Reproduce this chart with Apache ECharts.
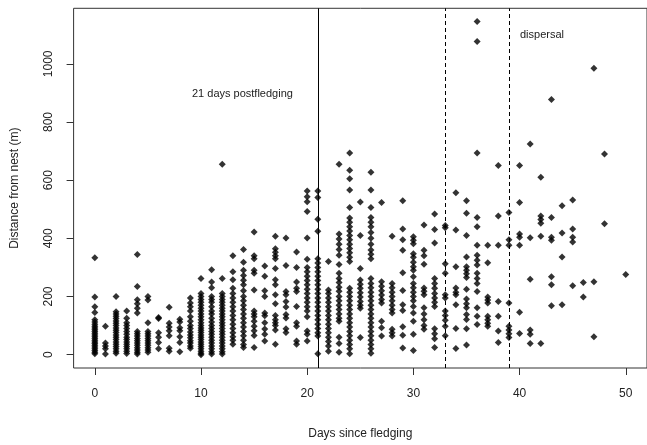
<!DOCTYPE html>
<html lang="en">

<head>
    <meta charset="UTF-8">
    <title>Distance from nest by days since fledging</title>
    <script src="https://cdn.jsdelivr.net/npm/echarts@6/dist/echarts.min.js"></script>
    <style>
        body {
            margin: 0;
        }

        #root {
            width: 647px;
            height: 445px;
        }
    </style>
</head>

<body>

    <div id="root"></div>
    <script>

        // days 0-20 (before the 21-day mark)
        var earlyDays = [0, 1, 2, 3, 4, 5, 6, 7, 8, 9, 10, 11, 12, 13, 14, 15, 16, 17, 18, 19, 20];
        var earlyDist = [
            [333, 198, 165, 145, 120, 112, 105, 98, 92, 86, 80, 74, 68, 62, 56, 50, 44, 38, 32, 26, 20, 14, 8, 3],
            [98, 40, 30, 20, 2],
            [200, 148, 140, 132, 124, 116, 108, 100, 92, 84, 76, 68, 60, 52, 44, 36, 28, 20, 12, 5],
            [150, 125, 110, 100, 90, 80, 70, 60, 52, 44, 36, 28, 20, 12, 4],
            [344, 234, 189, 175, 160, 143, 80, 72, 64, 56, 48, 40, 32, 24, 16, 8, 2],
            [200, 188, 110, 80, 72, 64, 56, 48, 40, 32, 24, 16, 8],
            [128, 124, 75, 60, 42, 20],
            [163, 108, 95, 82, 65, 22, 12],
            [122, 112, 93, 82, 62, 42, 10],
            [195, 178, 165, 150, 130, 115, 100, 90, 78, 68, 58, 48, 40, 30, 22],
            [262, 210, 200, 190, 180, 170, 160, 150, 140, 130, 120, 110, 100, 92, 84, 76, 68, 60, 52, 44, 36, 28, 20, 12, 5, 0],
            [292, 250, 230, 200, 190, 180, 165, 150, 140, 125, 112, 100, 90, 80, 70, 60, 50, 40, 30, 20, 10, 2],
            [655, 262, 210, 200, 190, 180, 170, 160, 150, 140, 130, 120, 110, 100, 90, 80, 70, 60, 50, 40, 30, 20, 10, 2],
            [340, 285, 258, 228, 210, 195, 180, 165, 150, 135, 120, 105, 90, 75, 62, 50, 36],
            [362, 318, 290, 272, 256, 240, 220, 200, 185, 170, 155, 140, 125, 110, 95, 80, 65, 50, 35, 25],
            [422, 340, 330, 290, 280, 222, 150, 140, 130, 115, 98, 82, 66, 25],
            [305, 270, 220, 200, 143, 134, 110, 88, 70, 47],
            [407, 364, 352, 340, 330, 296, 258, 240, 206, 175, 135, 120, 110, 100, 85, 36],
            [401, 307, 217, 206, 183, 164, 138, 126, 89, 76],
            [353, 300, 250, 228, 217, 166, 110, 98, 47, 36],
            [563, 543, 526, 492, 401, 328, 300, 285, 270, 255, 240, 225, 210, 195, 180, 165, 150, 130, 81, 70, 47]
        ];

        // days 21-32
        var midDays = [21, 22, 23, 24, 25, 26, 27, 28, 29, 30, 31, 32];
        var midDist = [
            [563, 540, 466, 424, 330, 315, 300, 285, 270, 255, 240, 225, 210, 195, 180, 165, 150, 135, 120, 105, 90, 75, 64, 3],
            [320, 222, 210, 195, 180, 165, 150, 135, 120, 105, 90, 75, 60, 45, 30, 12],
            [655, 415, 398, 380, 362, 342, 310, 280, 262, 248, 232, 218, 200, 185, 170, 155, 140, 125, 115, 60, 38, 8],
            [693, 634, 605, 566, 506, 470, 455, 440, 425, 410, 395, 380, 365, 350, 335, 320, 228, 215, 200, 185, 170, 155, 140, 125, 110, 95, 80, 65, 50, 35, 20, 3],
            [525, 410, 296, 257, 242, 228, 213, 198, 183, 170, 160, 59],
            [627, 566, 506, 472, 455, 440, 420, 400, 380, 360, 345, 330, 262, 245, 230, 215, 200, 185, 170, 155, 140, 125, 110, 95, 80, 65, 50, 35, 20, 5],
            [523, 251, 235, 220, 205, 190, 178, 115, 93, 64],
            [407, 245, 230, 215, 200, 185, 170, 155, 143, 87, 75, 64],
            [529, 432, 395, 359, 282, 221, 172, 152, 96, 67, 23],
            [405, 393, 381, 347, 335, 318, 302, 290, 268, 245, 230, 215, 200, 185, 166, 143, 115, 70, 14],
            [446, 359, 340, 311, 229, 218, 206, 161, 140, 120, 100, 87],
            [484, 430, 384, 262, 245, 228, 210, 195, 180, 166, 89, 72, 55, 25]
        ];

        // days 33-50
        var lateDays = [33, 34, 35, 36, 37, 38, 39, 40, 41, 42, 43, 44, 45, 46, 47, 48, 50];
        var lateDist = [
            [444, 436, 313, 280, 206, 195, 150, 135, 118, 98, 65],
            [557, 429, 302, 229, 215, 206, 172, 90, 21],
            [529, 486, 410, 336, 302, 290, 278, 265, 225, 191, 175, 161, 138, 121, 89, 33],
            [1145, 1077, 693, 472, 440, 376, 342, 325, 308, 280, 262, 245, 217, 161, 132, 104],
            [376, 316, 198, 188, 178, 132, 120, 108, 98],
            [650, 477, 376, 183, 132, 81, 42],
            [489, 395, 376, 178, 98, 85, 72, 59],
            [650, 523, 415, 404, 376, 146, 73],
            [724, 402, 259, 85, 70, 38],
            [610, 477, 465, 452, 407, 38],
            [877, 472, 404, 393, 268, 240, 168],
            [512, 418, 336, 172],
            [532, 432, 404, 387, 237],
            [248, 198],
            [985, 251, 62],
            [690, 450],
            [276]
        ];

        var xTicks = [0, 10, 20, 30, 40, 50];
        var yTicks = [0, 200, 400, 600, 800, 1000];
        var solidMark = 21;
        var dashedMarks = [33, 39];

        var points = [];
        function addPoints(days, dist) {
            days.forEach(function (d, i) {
                dist[i].forEach(function (v) {
                    points.push([d, v]);
                });
            });
        }
        addPoints(earlyDays, earlyDist);
        addPoints(midDays, midDist);
        addPoints(lateDays, lateDist);

        var font = 'Liberation Sans, Arial, sans-serif';
        var mychart = echarts.init(document.getElementById('root'));

        mychart.setOption({
            animation: false,
            textStyle: { fontFamily: font },
            grid: {
                left: 73.6,
                right: -4.4,
                top: 8.3,
                bottom: 72.5,
                show: true,
                borderColor: '#333',
                borderWidth: 1
            },
            xAxis: {
                type: 'value',
                min: -2,
                max: 52,
                name: 'Days since fledging',
                nameLocation: 'middle',
                nameGap: 60,
                nameTextStyle: { color: '#222', fontSize: 12 },
                axisLine: { show: false, onZero: false },
                splitLine: { show: false },
                axisTick: {
                    show: true,
                    length: 7,
                    customValues: xTicks,
                    lineStyle: { color: '#333' }
                },
                axisLabel: {
                    customValues: xTicks,
                    margin: 20,
                    color: '#222',
                    fontSize: 12,
                    formatter: function (v) { return String(v); }
                }
            },
            yAxis: {
                type: 'value',
                min: -45.8,
                max: 1190.8,
                name: 'Distance from nest (m)',
                nameLocation: 'middle',
                nameGap: 53,
                nameTextStyle: { color: '#222', fontSize: 12 },
                axisLine: { show: false, onZero: false },
                splitLine: { show: false },
                axisTick: {
                    show: true,
                    length: 7,
                    customValues: yTicks,
                    lineStyle: { color: '#333' }
                },
                axisLabel: {
                    customValues: yTicks,
                    rotate: 90,
                    margin: 19,
                    color: '#222',
                    fontSize: 12,
                    formatter: function (v) { return String(v); }
                }
            },
            graphic: [{
                type: 'text',
                left: 192,
                top: 88,
                style: { text: '21 days postfledging', fontSize: 11, fontFamily: font, fill: '#222' }
            }, {
                type: 'text',
                left: 520,
                top: 29,
                style: { text: 'dispersal', fontSize: 11, fontFamily: font, fill: '#222' }
            }],
            series: [{
                type: 'scatter',
                symbol: 'diamond',
                symbolSize: 7,
                itemStyle: { color: '#000' },
                data: points,
                markLine: {
                    silent: true,
                    symbol: 'none',
                    label: { show: false },
                    data: [
                        { xAxis: solidMark, lineStyle: { color: '#000', width: 1, type: 'solid' } },
                        { xAxis: dashedMarks[0], lineStyle: { color: '#000', width: 1, type: [4, 3] } },
                        { xAxis: dashedMarks[1], lineStyle: { color: '#000', width: 1, type: [4, 3] } }
                    ]
                }
            }]
        });

    </script>

</body>

</html>
